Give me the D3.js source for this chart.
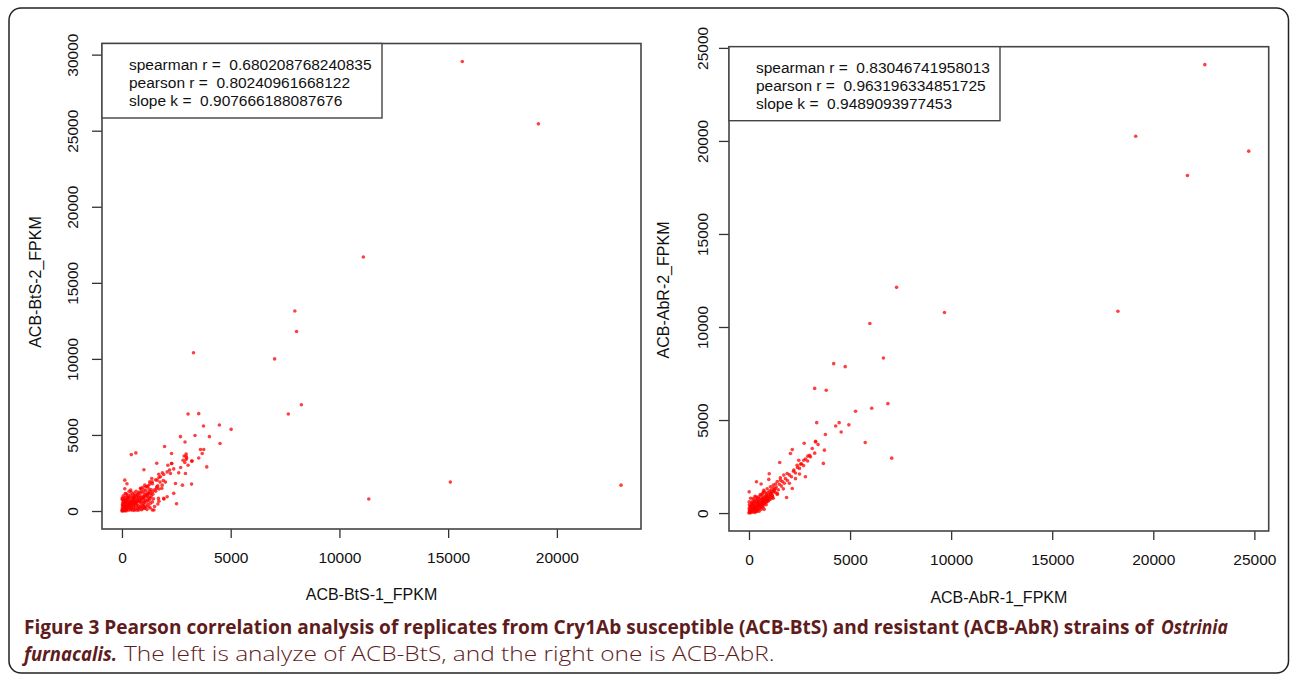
<!DOCTYPE html>
<html>
<head>
<meta charset="utf-8">
<style>
  body { margin: 0; background: #fff; }
  svg text { font-family: "Liberation Sans", Arial, Helvetica, sans-serif; fill: #111; }
</style>
</head>
<body>
<script src="https://d3js.org/d3.v7.min.js"></script>
<div id="chart"></div>
<script>

// ---- data ----
var btsTitleX = "ACB-BtS-1_FPKM", btsTitleY = "ACB-BtS-2_FPKM";
var abrTitleX = "ACB-AbR-1_FPKM", abrTitleY = "ACB-AbR-2_FPKM";

var btsStats = ["spearman r =  0.680208768240835", "pearson r =  0.80240961668122", "slope k =  0.907666188087676"];
var abrStats = ["spearman r =  0.83046741958013", "pearson r =  0.963196334851725", "slope k =  0.9489093977453"];

var btsXTicks = [0, 5000, 10000, 15000, 20000];
var btsYTicks = [0, 5000, 10000, 15000, 20000, 25000, 30000];
var abrXTicks = [0, 5000, 10000, 15000, 20000, 25000];
var abrYTicks = [0, 5000, 10000, 15000, 20000, 25000];

// ACB-BtS replicate 1 vs replicate 2 (FPKM)
var btsPoints = [
  [15650,29550],[19150,25450],[11100,16700],[7950,13150],[8030,11800],[3290,10400],[7020,10000],[8250,6990],
  [7650,6380],[3040,6380],[3530,6400],[3750,5590],[4480,5650],[5020,5370],[2690,4890],[3360,4960],[4020,4890],
  [2900,4540],[4510,4440],[1960,4240],[430,3710],[640,3820],[2280,3780],[3900,2900],[2510,480],[11350,790],
  [15100,1900],[22950,1700],[3200,1770],[2780,1700],[2380,1160],[1930,790],[1010,2710],[1600,3140],[130,2030],[230,1790],
  [3760,4040],[3610,4040],[3690,3780],[3530,3490],[3200,3280],[2950,3600],[2950,3390],[2890,3190],[2700,2860],
  [2380,2770],[2280,3120],[2230,2470],[2080,2570],[1920,2400],[1770,2250],[1620,2030],[1390,1920],[1280,1770],
  [1160,1590],[1010,1380],[1920,830],[1650,460],[1470,70],[1040,180],[2460,1810],
  [2950,3750],[2860,3620],[2980,3490],[3230,3280],[2810,3340],[3040,3010],[2920,2470],[2610,2510],[2190,2690],
  [2290,3120],[2110,3010],[1860,2510],[1690,2420],[1370,2140],[1280,1920],[1100,1590],[870,1460],[400,1380],
  [130,1460],[200,1130],[1600,1590],[1830,1490],[2080,940],[1680,830],[1400,70],[1240,280],[1010,280],[780,70],
  [0,0],[40,20],[90,60],[10,90],[150,30],[60,150],[130,130],[210,80],[20,220],[260,200],[200,10],[320,50],
  [100,280],[300,300],[380,140],[50,380],[400,360],[450,60],[170,420],[470,450],[520,250],[30,520],[560,540],
  [600,100],[250,560],[640,620],[700,400],[90,650],[720,700],[780,200],[350,720],[800,780],[880,500],[15,780],
  [880,880],[950,150],[480,850],[960,960],[1020,650],[150,900],[1050,1050],[1100,300],[600,1000],[1120,1120],
  [1200,800],[280,1050],[1200,1200],[1300,500],[750,1150],[1280,1300],[1350,1000],[420,1250],[1350,1400],
  [1450,800],[900,1300],[60,1000],[330,480],[520,700],[680,880],[820,1000],[240,780],[400,620],[560,820],
  [700,1080],[1000,1200],[180,300],[420,230],[620,380],[820,600],[1000,820],[1150,1000],[1300,1150],[1400,1250],
  [1500,1400],[1000,450],[1250,700],[1420,1100],[1550,1300],[1600,1500],[1650,1650],[1700,1450],[1750,1900],
  [1850,1700],[1900,2000],[2000,1900],[220,660],[120,500],[480,120],[700,50],[900,80],[1150,100],[1300,200],
  [1500,300],[1700,650],[80,800],[1100,700],[300,900],[500,1100],[650,1300],[850,1500],[1050,1700],
  [20,400],[70,480],[110,560],[160,640],[40,700],[10,860],[100,720],[190,760],[270,820],[330,610],[370,520],
  [240,470],[290,380],[160,240],[80,310],[230,130],[340,210],[470,320],[540,410],[610,500],[700,590],[760,670],
  [840,740],[920,810],[990,890],[1080,960],[1160,1060],[1230,1130],[630,760],[760,900],[450,700],[380,900],
  [560,960],[680,1020],[860,1180],[900,620],[1040,560],[1160,640],[1250,900],[960,360],[840,250],[720,160],
  [560,40],[620,230],[760,340],[880,300],[1060,200],[1180,420],[1320,850],[1400,600],[30,30],[100,10],[60,100],
  [180,180],[120,200],[250,300],[200,350],[350,400],[300,450],[430,500],[500,600],[580,660],[650,520],[520,880],
  [400,1050],[230,950],[150,1150],[330,1300],[560,1180],[780,1250],[1100,1350],[1250,1450],[950,1550],[1200,1650],
  [1400,1800],[1550,2050],[1700,2200]
];

// ACB-AbR replicate 1 vs replicate 2 (FPKM)
var abrPoints = [
  [22550,24100],[19130,20250],[24720,19450],[21690,18140],[18250,10850],[9670,10780],[7300,12130],[5980,10190],
  [6650,8330],[4190,8030],[4760,7870],[3250,6700],[3820,6600],[6870,5880],[5270,5470],[6070,5630],[3350,4860],
  [4290,4680],[4460,4860],[4940,4740],[4560,4360],[3780,4220],[5750,3790],[7060,2950],[2730,3750],
  [3300,3820],[3420,3680],[3130,3470],[3250,3220],[3730,3380],[3680,2670],[2790,1950],[2050,3200],[1520,2720],
  [1000,2110],[2710,2840],[2550,2630],[2380,2570],[2220,2310],[1890,2130],[1720,2040],[3040,3020],[2910,3060],
  [2460,2840],[1560,1770],[1310,1560],[1060,1410],[730,1230],[370,1680],[10,1140],[600,1560],[2140,1320],
  [1860,840],[1400,1060],[1150,840],[900,660],[980,1810],[2140,3410],[3290,3860],
  [0,0],[30,50],[80,20],[20,130],[120,100],[180,40],[60,220],[200,180],[260,90],[140,300],[300,260],[350,150],
  [100,380],[380,350],[420,220],[220,420],[450,430],[500,300],[300,520],[520,500],[580,380],[150,520],[600,580],
  [650,450],[400,640],[680,660],[720,520],[250,700],[750,740],[800,600],[500,780],[820,820],[880,700],[350,860],
  [900,900],[950,780],[600,950],[1000,1000],[50,350],[10,600],[80,800],[250,250],[400,80],[600,200],[700,300],
  [150,600],[450,600],[650,800],[850,1050],[1050,900],[1100,1100],[1150,950],[700,1100],[1250,1250],[1300,1100],
  [1350,1400],[1450,1250],[1500,1550],[1600,1450],[1650,1700],[1750,1600],[1800,1850],[1900,1750],[2000,2050],
  [2100,1950],[2200,2250],[2300,2150],[2400,2450],[2500,2400],[2600,2650],[2700,2550],[2800,2900],[2900,2800],
  [3000,3100],[1200,1500],[1400,1700],[1550,1900],[900,1300],[1000,700],[1200,800],[1400,1000],[1700,1300],
  [2000,1600],[2300,1850],[2500,2100],[300,30],[500,100],[750,200],[850,450],
  [40,90],[90,160],[160,120],[220,250],[280,180],[330,320],[380,260],[430,380],[480,440],[540,420],[600,500],
  [660,560],[700,640],[760,680],[830,760],[870,850],[940,880],[1060,1020],[1120,1050],[1180,1160],[1240,1180],
  [1300,1300],[180,330],[260,400],[340,480],[420,540],[500,620],[560,700],[640,740],[700,820],[780,900],[860,960],
  [930,1100],[1020,1180],[1100,1240],[1200,1350],[320,100],[460,180],[560,280],[620,360],[700,420],[780,500],
  [860,580],[940,640],[1000,820],[1080,760],[1160,900],[60,60],[10,250],[20,450],[120,460],[200,560],[280,620],
  [360,700],[420,800],[480,880],[560,1000],[660,1020],[760,1150],[300,900],[200,780]
];

var captionBold = "Figure 3 Pearson correlation analysis of replicates from Cry1Ab susceptible (ACB-BtS) and resistant (ACB-AbR) strains of";
var captionItalic1 = "Ostrinia";
var captionItalic2 = "furnacalis.";
var captionRest = "The left is analyze of ACB-BtS, and the right one is ACB-AbR.";

// ---- drawing ----
var W = 1292, H = 679;
var svg = d3.select("#chart").append("svg")
    .attr("width", W).attr("height", H);

svg.append("rect")
    .attr("x", 9).attr("y", 8).attr("width", 1279.5).attr("height", 665)
    .attr("rx", 12).attr("ry", 12)
    .attr("fill", "none").attr("stroke", "#222").attr("stroke-width", 1.5);

// R style range: data extent padded by 4% on each side
function rRange(vals) {
    var e = d3.extent(vals), pad = (e[1] - e[0]) * 0.04;
    return [e[0] - pad, e[1] + pad];
}

function drawPanel(p) {
    var x = d3.scaleLinear().domain(rRange(p.points.map(function(d) { return d[0]; })))
        .range([p.box.x0, p.box.x1]);
    var y = d3.scaleLinear().domain(rRange(p.points.map(function(d) { return d[1]; })))
        .range([p.box.y1, p.box.y0]);

    var g = svg.append("g");

    // points
    g.append("g").selectAll("circle")
        .data(p.points)
        .enter().append("circle")
        .attr("cx", function(d) { return x(d[0]); })
        .attr("cy", function(d) { return y(d[1]); })
        .attr("r", 1.8)
        .attr("fill", "#ff0000")
        .attr("fill-opacity", 0.75);

    // x axis
    var xa = g.append("g")
        .attr("transform", "translate(0," + p.box.y1 + ")")
        .call(d3.axisBottom(x).tickValues(p.xTicks).tickFormat(d3.format("d")).tickSize(9).tickSizeOuter(0));
    xa.select(".domain").remove();
    xa.selectAll("line").attr("stroke", "#333").attr("stroke-width", 1.3);
    xa.selectAll("text").attr("y", p.xLabOff).attr("dy", "0.35em")
        .style("font-size", "15.5px").style("fill", "#111").style("font-family", "Liberation Sans, Arial, sans-serif");

    // y axis
    var ya = g.append("g")
        .attr("transform", "translate(" + p.box.x0 + ",0)")
        .call(d3.axisLeft(y).tickValues(p.yTicks).tickFormat(d3.format("d")).tickSize(10).tickSizeOuter(0));
    ya.select(".domain").remove();
    ya.selectAll("line").attr("stroke", "#333").attr("stroke-width", 1.3);
    ya.selectAll("text")
        .attr("x", 0).attr("dy", "0.35em")
        .attr("transform", "translate(" + (-p.yLabOff) + ",0) rotate(-90)")
        .style("text-anchor", "middle")
        .style("font-size", "15.5px").style("fill", "#111").style("font-family", "Liberation Sans, Arial, sans-serif");

    // plot box
    g.append("rect")
        .attr("x", p.box.x0).attr("y", p.box.y0)
        .attr("width", p.box.x1 - p.box.x0).attr("height", p.box.y1 - p.box.y0)
        .attr("fill", "none").attr("stroke", "#444").attr("stroke-width", 1.6);

    // legend with statistics
    g.append("rect")
        .attr("x", p.box.x0).attr("y", p.box.y0)
        .attr("width", p.legend.w).attr("height", p.legend.h)
        .attr("fill", "#fff").attr("stroke", "#444").attr("stroke-width", 1.4);
    g.selectAll(".stat")
        .data(p.stats)
        .enter().append("text")
        .attr("x", p.box.x0 + 27)
        .attr("y", function(d, i) { return p.box.y0 + 21 + i * 18; })
        .attr("dy", "0.35em")
        .style("white-space", "pre")
        .style("font-size", "15.5px")
        .text(function(d) { return d; });

    // axis titles
    g.append("text")
        .attr("x", (p.box.x0 + p.box.x1) / 2).attr("y", p.xTitleY)
        .attr("dy", "0.35em").attr("text-anchor", "middle")
        .style("font-size", "16px")
        .text(p.titleX);
    g.append("text")
        .attr("transform", "translate(" + p.yTitleX + "," + p.yTitleY + ") rotate(-90)")
        .attr("dy", "0.35em").attr("text-anchor", "middle")
        .style("font-size", "16px")
        .text(p.titleY);
}

drawPanel({
    points: btsPoints, xTicks: btsXTicks, yTicks: btsYTicks, stats: btsStats,
    titleX: btsTitleX, titleY: btsTitleY,
    box: {x0: 102, x1: 641, y0: 43.5, y1: 529},
    legend: {w: 280, h: 74.5},
    xLabOff: 29, yLabOff: 29, xTitleY: 594, yTitleX: 35, yTitleY: 282
});

drawPanel({
    points: abrPoints, xTicks: abrXTicks, yTicks: abrYTicks, stats: abrStats,
    titleX: abrTitleX, titleY: abrTitleY,
    box: {x0: 729, x1: 1268.7, y0: 46.7, y1: 531},
    legend: {w: 271, h: 74},
    xLabOff: 29, yLabOff: 26, xTitleY: 597, yTitleX: 663, yTitleY: 290
});

// caption: each run is its own text, squeezed horizontally to the width it has in the figure
var capColor = "#5e1c1c";
function capText(x, y, len, weight, style, str) {
    var t = svg.append("text")
        .attr("x", 0).attr("y", 0)
        .style("font-family", "Open Sans, Noto Sans, sans-serif")
        .style("font-size", "19.5px").style("fill", capColor)
        .style("font-weight", weight).style("font-style", style)
        .text(str);
    var natural = t.node().getComputedTextLength();
    t.attr("transform", "translate(" + x + "," + y + ") scale(" + (len / natural) + ",1)");
}
capText(24, 634, 1131, "bold", "normal", captionBold);
capText(1161, 634, 67, "bold", "italic", captionItalic1);
capText(24, 661, 93, "bold", "italic", captionItalic2);
capText(124, 661, 651, "300", "normal", captionRest);

</script>
</body>
</html>
